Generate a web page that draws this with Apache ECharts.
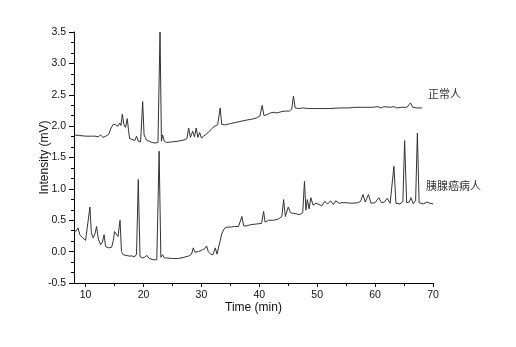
<!DOCTYPE html>
<html>
<head>
<meta charset="utf-8">
<script src="https://cdn.jsdelivr.net/npm/echarts@6/dist/echarts.min.js"></script>
<style>
html,body{margin:0;padding:0;background:#fff;}
#chart{width:516px;height:347px;}
</style>
</head>
<body>
<div id="chart"></div>
<script>
// ---- data ----
var normalTime = [8.0,9.0,10.0,11.0,11.6,11.9,12.2,12.6,13.0,13.5,14.0,14.4,14.8,15.2,15.6,15.9,16.1,16.35,16.6,16.9,17.2,17.4,17.6,18.0,18.5,18.8,19.1,19.5,19.86,20.1,20.3,20.6,21.0,21.5,22.0,22.5,22.86,23.1,23.3,23.6,24.0,25.0,26.0,27.0,27.5,27.8,28.1,28.5,28.8,29.1,29.4,29.7,30.0,30.4,30.7,31.2,31.8,32.3,32.8,33.25,33.5,34.0,35.0,36.0,37.0,38.0,38.7,39.5,40.1,40.5,40.8,41.3,41.9,42.2,42.5,43.0,43.8,44.5,45.2,45.6,45.9,46.2,46.8,47.5,48.5,50.0,52.0,54.0,55.5,56.5,58.0,59.5,60.5,61.0,61.5,62.5,63.3,63.7,64.5,65.5,66.1,66.5,67.2,68.1];
var normalValue = [1.86,1.85,1.84,1.84,1.84,1.87,1.83,1.86,1.82,1.84,1.87,1.97,2.03,2.02,2.00,2.05,2.01,2.19,2.03,1.98,2.12,1.95,1.80,1.79,1.77,1.84,1.76,1.75,2.39,1.86,1.82,1.77,1.76,1.74,1.73,1.74,3.50,1.76,1.86,1.76,1.74,1.75,1.76,1.78,1.80,1.97,1.82,1.92,1.83,1.97,1.82,1.90,1.81,1.84,1.82,1.90,1.96,2.00,2.02,2.29,2.03,2.02,2.04,2.06,2.08,2.10,2.11,2.13,2.16,2.33,2.17,2.18,2.21,2.19,2.22,2.21,2.23,2.24,2.24,2.27,2.48,2.29,2.28,2.29,2.28,2.28,2.28,2.29,2.29,2.30,2.30,2.30,2.31,2.29,2.31,2.30,2.31,2.29,2.30,2.30,2.37,2.30,2.29,2.29];

var cancerTime = [8.0,8.4,8.7,9.0,9.5,10.0,10.3,10.75,11.0,11.3,11.6,11.9,12.2,12.6,12.9,13.2,13.45,14.0,14.5,14.8,15.0,15.3,15.6,15.95,16.2,16.5,17.0,17.5,18.0,18.5,18.8,19.1,19.4,19.8,20.2,20.6,20.9,21.3,21.8,22.3,22.7,23.0,23.3,23.6,24.0,25.0,26.0,27.0,27.8,28.3,28.6,28.9,29.2,29.5,29.8,30.2,30.6,30.9,31.2,31.6,32.0,32.4,32.7,33.0,33.5,33.9,34.3,35.0,35.7,36.4,36.7,37.0,37.3,37.8,38.5,39.5,40.4,40.75,41.0,41.6,42.5,43.3,43.9,44.2,44.5,45.0,45.4,45.9,46.5,47.0,47.5,47.8,48.05,48.3,48.6,48.9,49.3,49.8,50.3,50.8,51.3,51.8,52.3,52.8,53.2,53.8,54.3,55.0,56.0,57.0,57.5,57.9,58.3,58.85,59.3,60.0,60.65,61.1,61.6,62.1,62.6,62.9,63.25,63.6,64.3,64.8,65.1,65.45,65.9,66.2,66.6,67.0,67.3,67.6,68.3,69.0,69.5,70.0];
var cancerValue = [0.32,0.33,0.38,0.27,0.22,0.18,0.20,0.71,0.30,0.22,0.28,0.40,0.20,0.11,0.15,0.27,0.08,0.06,0.07,0.18,0.32,0.28,0.24,0.50,0.00,-0.05,-0.06,-0.07,-0.07,-0.08,-0.04,1.15,-0.08,-0.10,-0.09,-0.06,-0.10,-0.12,-0.13,-0.13,1.60,-0.09,-0.05,-0.10,-0.10,-0.11,-0.11,-0.09,-0.07,-0.04,0.06,-0.01,0.02,0.00,0.02,0.03,0.05,0.09,0.00,-0.04,-0.05,0.06,-0.04,-0.03,0.28,0.36,0.39,0.39,0.40,0.40,0.42,0.56,0.41,0.41,0.43,0.44,0.45,0.64,0.47,0.50,0.50,0.52,0.56,0.83,0.56,0.71,0.62,0.61,0.60,0.59,0.62,1.12,0.66,0.83,0.68,0.86,0.74,0.77,0.75,0.73,0.80,0.76,0.81,0.75,0.81,0.77,0.78,0.78,0.77,0.78,0.80,0.91,0.79,0.91,0.77,0.78,0.86,0.78,0.79,0.85,0.77,0.80,1.36,0.77,0.76,0.80,1.77,0.78,0.79,0.86,0.76,0.82,1.89,0.78,0.76,0.79,0.77,0.76];

var xMajorTicks = [10,20,30,40,50,60,70];
var xMinorTicks = [15,25,35,45,55,65];
var seriesLabels = ['正常人','胰腺癌病人'];

function zip(t, v){ var out=[]; for(var i=0;i<t.length;i++){ out.push([t[i], v[i]]); } return out; }

var chart = echarts.init(document.getElementById('chart'), null, {renderer:'canvas'});
var axisColor = '#000';
var labelFont = 'Liberation Sans, Arial, sans-serif';
chart.setOption({
  animation:false,
  backgroundColor:'#fff',
  grid:{left:74, right:83, top:32, bottom:64, containLabel:false},
  xAxis:[{
    type:'value', min:8, max:70, position:'bottom',
    name:'Time (min)', nameLocation:'middle', nameGap:19, nameMoveOverlap:false,
    nameTextStyle:{color:'#111', fontSize:12, fontFamily:labelFont},
    axisLine:{show:true, onZero:false, lineStyle:{color:axisColor, width:1}},
    axisTick:{show:true, customValues:xMajorTicks, length:4, lineStyle:{color:axisColor}},
    axisLabel:{show:true, customValues:xMajorTicks, margin:7, color:'#111', fontSize:10.5, fontFamily:labelFont},
    splitLine:{show:false}
  },{
    type:'value', min:8, max:70, position:'bottom',
    axisLine:{show:false, onZero:false},
    axisTick:{show:true, customValues:xMinorTicks, length:3, lineStyle:{color:axisColor}},
    axisLabel:{show:false},
    splitLine:{show:false}
  }],
  yAxis:{
    type:'value', min:-0.5, max:3.5, interval:0.5,
    name:'Intensity (mV)', nameLocation:'middle', nameGap:23, nameMoveOverlap:false,
    nameTextStyle:{color:'#111', fontSize:12, fontFamily:labelFont},
    axisLine:{show:true, onZero:false, lineStyle:{color:axisColor, width:1}},
    axisTick:{show:true, length:5, lineStyle:{color:axisColor}},
    minorTick:{show:true, splitNumber:3, length:3, lineStyle:{color:axisColor}},
    axisLabel:{margin:8, color:'#111', fontSize:10.5, fontFamily:labelFont,
      formatter:function(v){ return v.toFixed(1); }},
    splitLine:{show:false}, minorSplitLine:{show:false}
  },
  series:[{
    name:seriesLabels[0], type:'line', xAxisIndex:0, data:zip(normalTime, normalValue),
    symbol:'none', lineStyle:{color:'#333', width:1}
  },{
    name:seriesLabels[1], type:'line', xAxisIndex:0, data:zip(cancerTime, cancerValue),
    symbol:'none', lineStyle:{color:'#333', width:1}
  }],
  graphic:[
    {type:'text', left:428, top:88, style:{text:seriesLabels[0], fill:'#333', fontSize:11, fontFamily:'Noto Sans CJK SC'}},
    {type:'text', left:426, top:180, style:{text:seriesLabels[1], fill:'#333', fontSize:11, fontFamily:'Noto Sans CJK SC'}}
  ]
});
</script>
</body>
</html>
